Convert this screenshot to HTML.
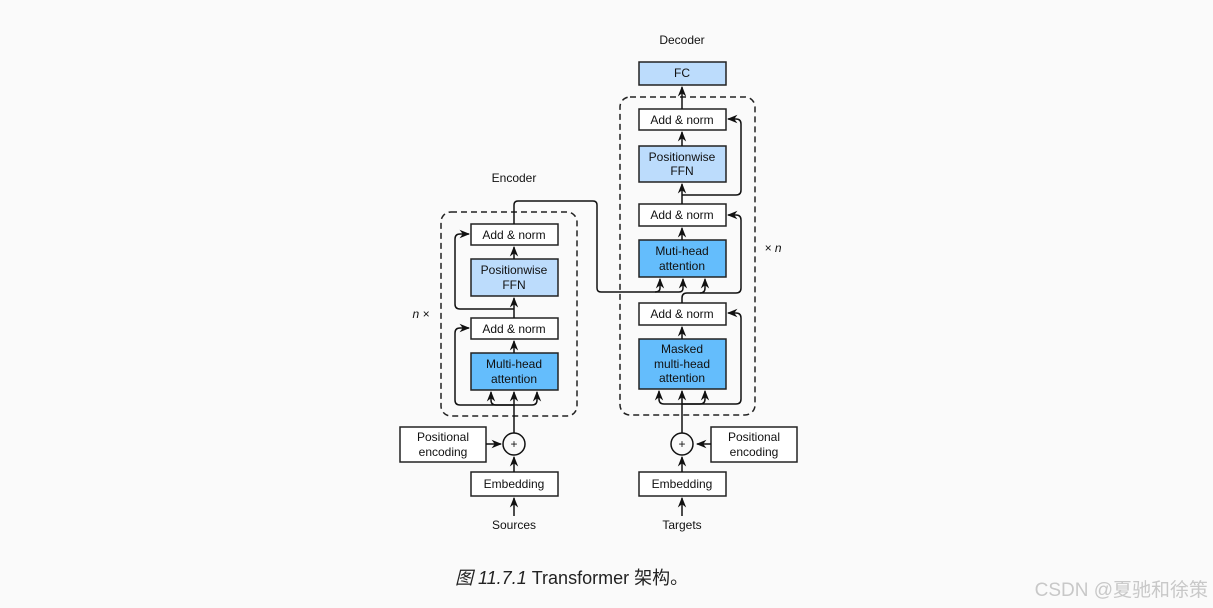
<!DOCTYPE html>
<html><head><meta charset="utf-8"><style>
html,body{margin:0;padding:0;background:#fafafa;}
svg{display:block}
text{font-family:"Liberation Sans","Noto Sans CJK SC",sans-serif;font-size:12px;fill:#111;}
.b{fill:#fff;stroke:#222;stroke-width:1.5}
.l{fill:#bcdcfc;stroke:#222;stroke-width:1.5}
.d{fill:#64bdfc;stroke:#222;stroke-width:1.5}
.w{fill:none;stroke:#111;stroke-width:1.5}
.ds{fill:none;stroke:#222;stroke-width:1.5;stroke-dasharray:6,4}
</style></head><body>
<svg width="1213" height="608" viewBox="0 0 1213 608" xmlns="http://www.w3.org/2000/svg">
<defs><marker id="a" viewBox="0 0 10 10" refX="9" refY="5" markerWidth="7" markerHeight="7" orient="auto"><path d="M0,1 L10,5 L0,9 L3,5 z" fill="#111"/></marker></defs>
<g text-anchor="middle">
<!-- Encoder -->
<text x="514" y="182">Encoder</text>
<rect class="ds" x="441" y="212" width="136" height="204" rx="10"/>
<text x="421" y="318" font-style="italic" font-family="Liberation Serif">n ×</text>
<rect class="b" x="471" y="224" width="87" height="21"/><text x="514" y="239">Add &amp; norm</text>
<rect class="l" x="471" y="259" width="87" height="37"/><text x="514" y="274">Positionwise</text><text x="514" y="289">FFN</text>
<rect class="b" x="471" y="318" width="87" height="21"/><text x="514" y="333">Add &amp; norm</text>
<rect class="d" x="471" y="353" width="87" height="37"/><text x="514" y="368">Multi-head</text><text x="514" y="383">attention</text>
<circle class="w" cx="514" cy="444" r="11" fill="#fff"/><text x="514" y="448">+</text>
<rect class="b" x="400" y="427" width="86" height="35"/><text x="443" y="441">Positional</text><text x="443" y="456">encoding</text>
<rect class="b" x="471" y="472" width="87" height="24"/><text x="514" y="488">Embedding</text>
<text x="514" y="529">Sources</text>
<!-- Decoder -->
<text x="682" y="44">Decoder</text>
<rect class="l" x="639" y="62" width="87" height="23"/><text x="682" y="77">FC</text>
<rect class="ds" x="620" y="97" width="135" height="318" rx="10"/>
<text x="773" y="252" font-style="italic" font-family="Liberation Serif">× n</text>
<rect class="b" x="639" y="109" width="87" height="21"/><text x="682" y="124">Add &amp; norm</text>
<rect class="l" x="639" y="146" width="87" height="36"/><text x="682" y="161">Positionwise</text><text x="682" y="175">FFN</text>
<rect class="b" x="639" y="204" width="87" height="22"/><text x="682" y="219">Add &amp; norm</text>
<rect class="d" x="639" y="240" width="87" height="37"/><text x="682" y="255">Muti-head</text><text x="682" y="270">attention</text>
<rect class="b" x="639" y="303" width="87" height="22"/><text x="682" y="318">Add &amp; norm</text>
<rect class="d" x="639" y="339" width="87" height="50"/><text x="682" y="353">Masked</text><text x="682" y="368">multi-head</text><text x="682" y="382">attention</text>
<circle class="w" cx="682" cy="444" r="11" fill="#fff"/><text x="682" y="448">+</text>
<rect class="b" x="711" y="427" width="86" height="35"/><text x="754" y="441">Positional</text><text x="754" y="456">encoding</text>
<rect class="b" x="639" y="472" width="87" height="24"/><text x="682" y="488">Embedding</text>
<text x="682" y="529">Targets</text>
</g>
<!-- Encoder wires -->
<g class="w">
<path d="M514,516 V498" marker-end="url(#a)"/>
<path d="M514,472 V457" marker-end="url(#a)"/>
<path d="M486,444 H501" marker-end="url(#a)"/>
<path d="M514,433 V392" marker-end="url(#a)"/>
<path d="M514,405 H460 Q455,405 455,400 V333 Q455,328 460,328 H469" marker-end="url(#a)"/>
<path d="M514,405 H496 Q491,405 491,400 V392" marker-end="url(#a)"/>
<path d="M514,405 H532 Q537,405 537,400 V392" marker-end="url(#a)"/>
<path d="M514,353 V341" marker-end="url(#a)"/>
<path d="M514,318 V298" marker-end="url(#a)"/>
<path d="M514,309 H460 Q455,309 455,304 V239 Q455,234 460,234 H469" marker-end="url(#a)"/>
<path d="M514,259 V247" marker-end="url(#a)"/>
<path d="M514,224 V205 Q514,201 518,201 H593 Q597,201 597,205 V288 Q597,292 601,292 H679 Q683,292 683,288 V279" marker-end="url(#a)"/>
<path d="M655,292 Q660,292 660,288 V279" marker-end="url(#a)"/>
<!-- Decoder wires -->
<path d="M682,516 V498" marker-end="url(#a)"/>
<path d="M682,472 V457" marker-end="url(#a)"/>
<path d="M711,444 H697" marker-end="url(#a)"/>
<path d="M682,433 V391" marker-end="url(#a)"/>
<path d="M682,404 H736 Q741,404 741,399 V318 Q741,313 736,313 H728" marker-end="url(#a)"/>
<path d="M682,404 H664 Q659,404 659,399 V391" marker-end="url(#a)"/>
<path d="M682,404 H700 Q705,404 705,399 V391" marker-end="url(#a)"/>
<path d="M682,339 V327" marker-end="url(#a)"/>
<path d="M682,303 V298 Q682,293 687,293 H736 Q741,293 741,288 V220 Q741,215 736,215 H728" marker-end="url(#a)"/>
<path d="M700,293 Q705,293 705,288 V279" marker-end="url(#a)"/>
<path d="M682,240 V228" marker-end="url(#a)"/>
<path d="M682,204 V184" marker-end="url(#a)"/>
<path d="M682,195 H736 Q741,195 741,190 V124 Q741,119 736,119 H728" marker-end="url(#a)"/>
<path d="M682,146 V132" marker-end="url(#a)"/>
<path d="M682,109 V87" marker-end="url(#a)"/>
</g>
<text x="455" y="584" style="font-size:18px;fill:#222"><tspan font-style="italic">图 11.7.1</tspan> Transformer 架构。</text>
<text x="1208" y="596" text-anchor="end" style="font-size:19px;fill:#c8c8c8">CSDN @夏驰和徐策</text>
</svg>
</body></html>
